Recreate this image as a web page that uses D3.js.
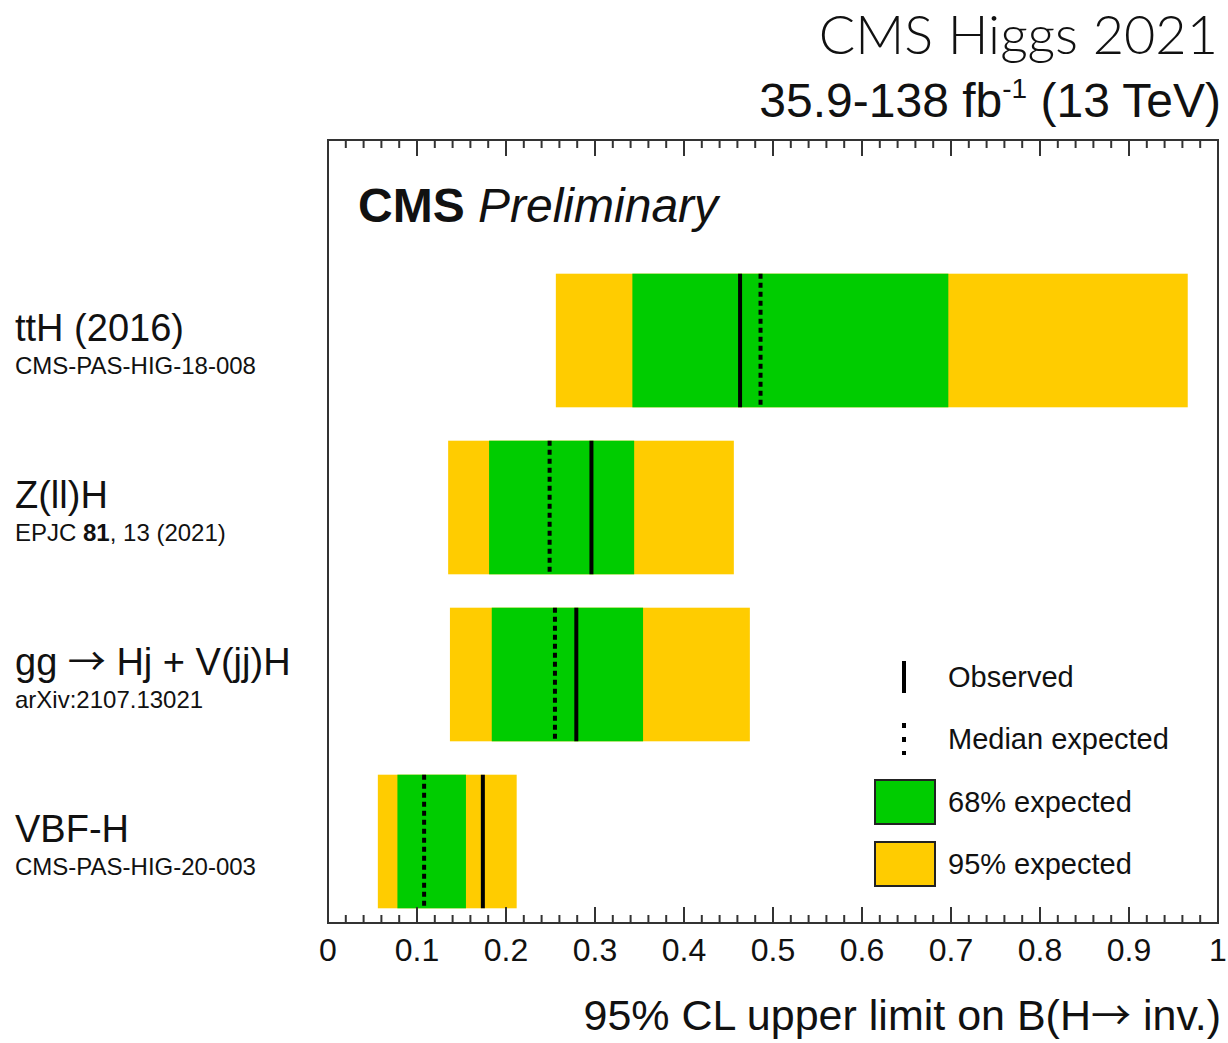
<!DOCTYPE html>
<html>
<head>
<meta charset="utf-8">
<script src="https://cdn.jsdelivr.net/npm/d3@7"></script>
<style>
  body { margin: 0; background: #fff; }
  text { font-family: "Liberation Sans", Arial, Helvetica, sans-serif; fill: #111; }
</style>
</head>
<body>
<div id="chart"></div>
<script>
// channels, top to bottom
var channels = ["ttH (2016)", "Z(ll)H", "gg \u2192 Hj + V(jj)H", "VBF-H"];
var references = ["CMS-PAS-HIG-18-008", "EPJC 81, 13 (2021)", "arXiv:2107.13021", "CMS-PAS-HIG-20-003"];
// 95% CL upper limits on B(H -> inv.)
var observed = [0.463, 0.296, 0.279, 0.174];
var expected = [0.486, 0.249, 0.255, 0.108];
var band68lo = [0.342, 0.181, 0.184, 0.078];
var band68hi = [0.697, 0.344, 0.354, 0.155];
var band95lo = [0.256, 0.135, 0.137, 0.056];
var band95hi = [0.966, 0.456, 0.474, 0.212];
var xTicks = [0, 0.1, 0.2, 0.3, 0.4, 0.5, 0.6, 0.7, 0.8, 0.9, 1];
var legendItems = ["Observed", "Median expected", "68% expected", "95% expected"];

var width = 1228, height = 1043;
var frame = { left: 328, right: 1218, top: 140, bottom: 923 };
var green = "#00cc00", yellow = "#ffcc00";

var svg = d3.select("#chart").append("svg")
    .attr("width", width)
    .attr("height", height);

var x = d3.scaleLinear().domain([0, 1]).range([frame.left, frame.right]);
var y = d3.scaleBand().domain(channels)
    .range([257, 925])
    .paddingInner(0.2)
    .paddingOuter(0.1);

var rows = channels.map(function(c, i) {
    return { name: c, ref: references[i], obs: observed[i], exp: expected[i],
             lo68: band68lo[i], hi68: band68hi[i], lo95: band95lo[i], hi95: band95hi[i] };
});

// writes a string into a text element, the arrow goes in a CJK font (thin, wide glyph like ROOT's)
function arrowText(t, s, arrowSize) {
    var parts = s.split("\u2192");
    t.append("tspan").text(parts[0]);
    for (var i = 1; i < parts.length; i++) {
        t.append("tspan").style("font-family", "'Noto Sans CJK JP', 'DejaVu Sans'").style("font-size", arrowSize)
            .text("\u2192");
        t.append("tspan").text(parts[i]);
    }
}

// bands
var g = svg.append("g");
g.selectAll("rect.b95").data(rows).enter().append("rect")
    .attr("class", "b95")
    .attr("x", function(d) { return x(d.lo95); })
    .attr("width", function(d) { return x(d.hi95) - x(d.lo95); })
    .attr("y", function(d) { return y(d.name); })
    .attr("height", y.bandwidth())
    .style("fill", yellow);
g.selectAll("rect.b68").data(rows).enter().append("rect")
    .attr("class", "b68")
    .attr("x", function(d) { return x(d.lo68); })
    .attr("width", function(d) { return x(d.hi68) - x(d.lo68); })
    .attr("y", function(d) { return y(d.name); })
    .attr("height", y.bandwidth())
    .style("fill", green);
g.selectAll("line.exp").data(rows).enter().append("line")
    .attr("class", "exp")
    .attr("x1", function(d) { return x(d.exp); })
    .attr("x2", function(d) { return x(d.exp); })
    .attr("y1", function(d) { return y(d.name); })
    .attr("y2", function(d) { return y(d.name) + y.bandwidth(); })
    .style("stroke", "#000")
    .style("stroke-width", 4)
    .style("stroke-dasharray", "5,4");
g.selectAll("line.obs").data(rows).enter().append("line")
    .attr("class", "obs")
    .attr("x1", function(d) { return x(d.obs); })
    .attr("x2", function(d) { return x(d.obs); })
    .attr("y1", function(d) { return y(d.name); })
    .attr("y2", function(d) { return y(d.name) + y.bandwidth(); })
    .style("stroke", "#000")
    .style("stroke-width", 4);

// frame
svg.append("rect")
    .attr("x", frame.left).attr("y", frame.top)
    .attr("width", frame.right - frame.left)
    .attr("height", frame.bottom - frame.top)
    .style("fill", "none")
    .style("stroke", "#333")
    .style("stroke-width", 2);

// ticks, ROOT style: major every 0.1, minor every 0.02, on bottom and top
var minor = d3.range(0, 51).map(function(i) { return i / 50; });
var majorLen = 16, minorLen = 8;
var ticksG = svg.append("g");
ticksG.selectAll("line.tb").data(minor).enter().append("line")
    .attr("x1", function(d) { return x(d); })
    .attr("x2", function(d) { return x(d); })
    .attr("y1", frame.bottom)
    .attr("y2", function(d, i) { return frame.bottom - (i % 5 == 0 ? majorLen : minorLen); })
    .style("stroke", "#333").style("stroke-width", 2);
ticksG.selectAll("line.tt").data(minor).enter().append("line")
    .attr("x1", function(d) { return x(d); })
    .attr("x2", function(d) { return x(d); })
    .attr("y1", frame.top)
    .attr("y2", function(d, i) { return frame.top + (i % 5 == 0 ? majorLen : minorLen); })
    .style("stroke", "#333").style("stroke-width", 2);

// tick labels
svg.append("g").selectAll("text").data(xTicks).enter().append("text")
    .attr("x", function(d) { return x(d); })
    .attr("y", 961)
    .attr("text-anchor", "middle")
    .style("font-size", "32px")
    .text(function(d) { return d3.format("")(d); });

// axis title
var xTitle = svg.append("text")
    .attr("x", 1221).attr("y", 1030)
    .attr("text-anchor", "end")
    .style("font-size", "43px");
arrowText(xTitle, "95% CL upper limit on B(H\u2192 inv.)", "40px");

// header texts
svg.append("text")
    .attr("x", 1218).attr("y", 54)
    .attr("text-anchor", "end")
    .style("font-family", "Lato, 'Open Sans', sans-serif")
    .style("font-weight", 300)
    .style("font-size", "54px")
    .text("CMS Higgs 2021");
var lumi = svg.append("text")
    .attr("x", 1221).attr("y", 117)
    .attr("text-anchor", "end")
    .style("font-size", "48px");
lumi.append("tspan").text("35.9-138 fb");
lumi.append("tspan").attr("dy", -19).style("font-size", "28px").text("-1");
lumi.append("tspan").attr("dy", 19).text(" (13 TeV)");

var cms = svg.append("text").attr("x", 358).attr("y", 222).style("font-size", "48px");
cms.append("tspan").style("font-weight", "bold").text("CMS");
cms.append("tspan").style("font-style", "italic").text(" Preliminary");

// channel labels
var labels = svg.append("g");
labels.selectAll("text.name").data(rows).enter().append("text")
    .attr("class", "name")
    .attr("x", 15)
    .attr("y", function(d) { return y(d.name) + y.bandwidth() / 2; })
    .style("font-size", "38px")
    .each(function(d) { arrowText(d3.select(this), d.name, "38px"); });
var refs = labels.selectAll("text.ref").data(rows).enter().append("text")
    .attr("class", "ref")
    .attr("x", 15)
    .attr("y", function(d) { return y(d.name) + y.bandwidth() / 2 + 33; })
    .style("font-size", "24px");
refs.each(function(d) {
    var t = d3.select(this);
    var m = d.ref.match(/^(EPJC )(81)(.*)$/);
    if (m) {
        t.append("tspan").text(m[1]);
        t.append("tspan").style("font-weight", "bold").text(m[2]);
        t.append("tspan").text(m[3]);
    } else {
        t.text(d.ref);
    }
});

// legend
var leg = svg.append("g");
var legY = [677, 739, 802, 864];
var symX = 904;
leg.append("line").attr("x1", symX).attr("x2", symX).attr("y1", legY[0] - 16).attr("y2", legY[0] + 16)
    .style("stroke", "#000").style("stroke-width", 4);
leg.append("line").attr("x1", symX).attr("x2", symX).attr("y1", legY[1] - 16).attr("y2", legY[1] + 16)
    .style("stroke", "#000").style("stroke-width", 4).style("stroke-dasharray", "5,9");
leg.append("rect").attr("x", 875).attr("y", legY[2] - 22).attr("width", 60).attr("height", 44)
    .style("fill", green).style("stroke", "#222").style("stroke-width", 2);
leg.append("rect").attr("x", 875).attr("y", legY[3] - 22).attr("width", 60).attr("height", 44)
    .style("fill", yellow).style("stroke", "#222").style("stroke-width", 2);
leg.selectAll("text").data(legendItems).enter().append("text")
    .attr("x", 948)
    .attr("y", function(d, i) { return legY[i] + 10; })
    .style("font-size", "29px")
    .text(function(d) { return d; });
</script>
</body>
</html>
